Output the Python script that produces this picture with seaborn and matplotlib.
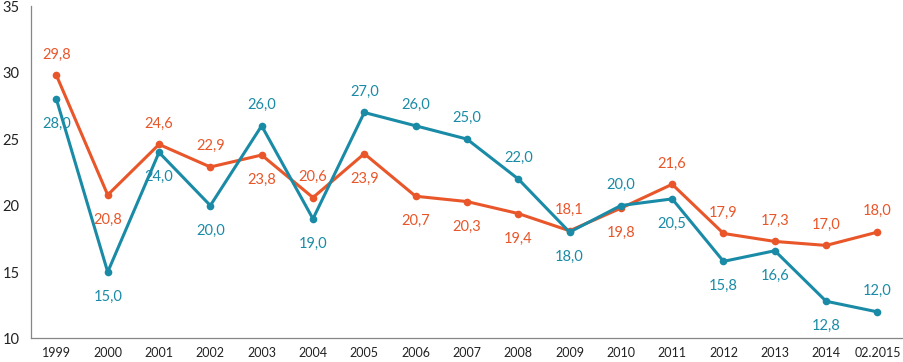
import pandas as pd
import numpy as np
import matplotlib
matplotlib.use("Agg")
import matplotlib.pyplot as plt
import seaborn as sns

# Data
years = ['1999', '2000', '2001', '2002', '2003', '2004', '2005', '2006', '2007',
         '2008', '2009', '2010', '2011', '2012', '2013', '2014', '02.2015']
orange_vals = [29.8, 20.8, 24.6, 22.9, 23.8, 20.6, 23.9, 20.7, 20.3,
               19.4, 18.1, 19.8, 21.6, 17.9, 17.3, 17.0, 18.0]
teal_vals = [28.0, 15.0, 24.0, 20.0, 26.0, 19.0, 27.0, 26.0, 25.0,
             22.0, 18.0, 20.0, 20.5, 15.8, 16.6, 12.8, 12.0]
# label placement: 1 = above the point, -1 = below
orange_pos = [1, -1, 1, 1, -1, 1, -1, -1, -1, -1, 1, -1, 1, 1, 1, 1, 1]
teal_pos = [-1, -1, -1, -1, 1, -1, 1, 1, 1, 1, -1, 1, -1, -1, -1, -1, 1]

ORANGE = '#E8562A'
TEAL = '#1A8BA6'
GREY = '#868686'

sns.set_style('white')
plt.rcParams['font.family'] = ['Lato', 'DejaVu Sans']

df = pd.DataFrame({
    'x': list(range(len(years))) * 2,
    'value': orange_vals + teal_vals,
    'series': ['orange'] * len(years) + ['teal'] * len(years),
})

fig, ax = plt.subplots(figsize=(9.04, 3.62), dpi=100)
fig.subplots_adjust(left=0.034, right=0.999, top=0.983, bottom=0.065)

sns.lineplot(data=df, x='x', y='value', hue='series',
             palette={'orange': ORANGE, 'teal': TEAL},
             hue_order=['orange', 'teal'],
             marker='o', markersize=5.5, markeredgewidth=0,
             linewidth=2.2, legend=False, ax=ax)

def label_series(vals, pos, color):
    for i, (v, p) in enumerate(zip(vals, pos)):
        off = 15 if p > 0 else -18
        ax.annotate(f'{v:.1f}'.replace('.', ','), (i, v),
                    xytext=(0, off), textcoords='offset points',
                    ha='center', va='center', color=color, fontsize=10.5)

label_series(orange_vals, orange_pos, ORANGE)
label_series(teal_vals, teal_pos, TEAL)

ax.set_ylim(10, 35)
ax.set_yticks([10, 15, 20, 25, 30, 35])
ax.set_xlim(-0.5, len(years) - 0.5)
ax.set_xticks(np.arange(-0.5, len(years), 1.0))
ax.set_xticklabels([])
ax.set_xticks(range(len(years)), minor=True)
ax.set_xticklabels(years, minor=True)
ax.tick_params(axis='x', which='major', length=5, color=GREY, width=0.8, direction='out')
ax.tick_params(axis='x', which='minor', length=0, pad=6, labelsize=9, labelcolor='#222222')
ax.tick_params(axis='y', length=5, color=GREY, width=0.8, direction='out',
               labelsize=10.5, labelcolor='#222222', pad=3)
ax.set_xlabel('')
ax.set_ylabel('')

for s in ['top', 'right']:
    ax.spines[s].set_visible(False)
for s in ['left', 'bottom']:
    ax.spines[s].set_color(GREY)
    ax.spines[s].set_linewidth(0.9)

fig.savefig('out.png', dpi=100)
